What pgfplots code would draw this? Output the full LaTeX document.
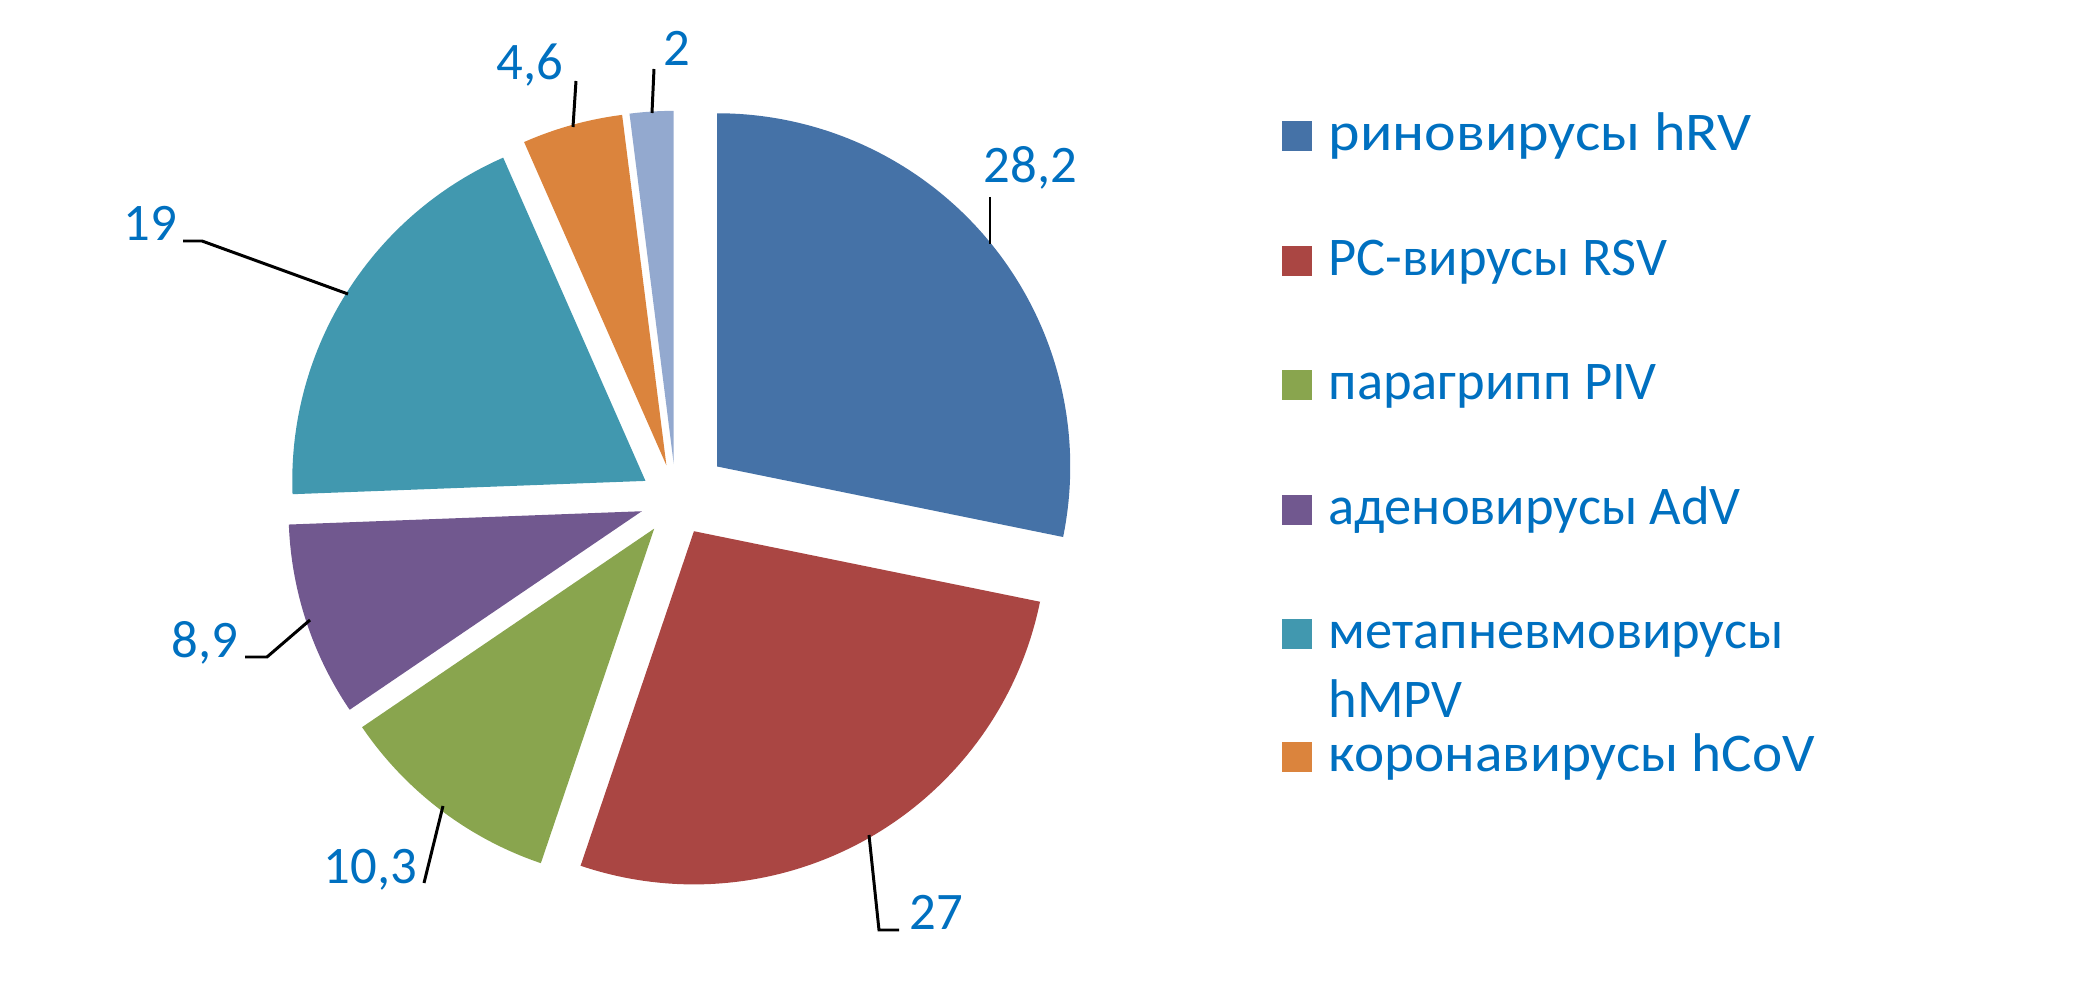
\documentclass[border=0pt]{standalone}
\usepackage{fontspec}
\setmainfont{Carlito}
\usepackage{graphicx}
\usepackage{pgfplots}
\pgfplotsset{compat=1.18}
\definecolor{cA}{HTML}{4572A7}
\definecolor{cB}{HTML}{AA4643}
\definecolor{cC}{HTML}{89A54E}
\definecolor{cD}{HTML}{71588F}
\definecolor{cE}{HTML}{4198AF}
\definecolor{cF}{HTML}{DB843D}
\definecolor{cG}{HTML}{93A9CF}
\definecolor{lbl}{HTML}{0070C0}
% #1 colour, #2 cumulative share before the slice, #3 share, #4 explosion
\newcommand\pieslice[4]{%
  \fill[#1] (axis cs:{676+#4*cos(90-3.6*(#2+0.5*#3))},{500+#4*sin(90-3.6*(#2+0.5*#3))})
    -- ++({90-3.6*#2}:3.53cm)
    arc[start angle={90-3.6*#2}, end angle={90-3.6*(#2+#3)}, radius=3.53cm] -- cycle;}
\newcommand\lab[3]{\node[anchor=base west, inner sep=0pt, text=lbl, font=\fontsize{15}{18}\selectfont] at (axis cs:#1,#2) {#3};}
\newcommand\legitem[4]{%
  \fill[#1] (axis cs:1282,#2) rectangle (axis cs:1312,{#2+30});
  \node[anchor=base west, inner sep=0pt, text=lbl, font=\fontsize{15.5}{18}\selectfont] at (axis cs:1328,#2) {\scalebox{#4}[1]{#3}};}
\begin{document}
\begin{tikzpicture}
\begin{axis}[x=0.01cm, y=0.01cm, xmin=0, xmax=2076, ymin=0, ymax=1000,
  hide axis, clip=false]
\path (axis cs:0,0) rectangle (axis cs:2076,1000);
% values: 28.2, 27, 10.3, 8.9, 19, 4.6, 2
\pieslice{cA}{0}{28.2}{53}
\pieslice{cB}{28.2}{27}{36}
\pieslice{cC}{55.2}{10.3}{36}
\pieslice{cD}{65.5}{8.9}{36}
\pieslice{cE}{74.4}{19}{36}
\pieslice{cF}{93.4}{4.6}{36}
\pieslice{cG}{98.0}{2}{36}
% leader lines
\draw[black, line width=0.85pt] (axis cs:990,803) -- (axis cs:990,756);
\draw[black, line width=0.85pt] (axis cs:869,165) -- (axis cs:879,70) -- (axis cs:899,70);
\draw[black, line width=0.85pt] (axis cs:443,194) -- (axis cs:424,117);
\draw[black, line width=0.85pt] (axis cs:310,380) -- (axis cs:267,343) -- (axis cs:245,343);
\draw[black, line width=0.85pt] (axis cs:183,759) -- (axis cs:202,759) -- (axis cs:348,706);
\draw[black, line width=0.85pt] (axis cs:576,919) -- (axis cs:573,873);
\draw[black, line width=0.85pt] (axis cs:654,931) -- (axis cs:652,887);
% data labels
\lab{983}{817}{28,2}
\lab{909}{71}{27}
\lab{323}{117}{10,3}
\lab{171}{343}{8,9}
\lab{123}{759}{19}
\lab{496}{920}{4,6}
\lab{663}{934}{2}
% legend
\legitem{cA}{849}{риновирусы hRV}{1.1}
\legitem{cB}{724}{РС-вирусы RSV}{1}
\legitem{cC}{600}{парагрипп PIV}{1}
\legitem{cD}{475}{аденовирусы AdV}{1}
\legitem{cE}{351}{метапневмовирусы}{1}
\node[anchor=base west, inner sep=0pt, text=lbl, font=\fontsize{15.5}{18}\selectfont] at (axis cs:1328,283) {hMPV};
\legitem{cF}{228}{коронавирусы hCoV}{1.05}
\end{axis}
\end{tikzpicture}
\end{document}
